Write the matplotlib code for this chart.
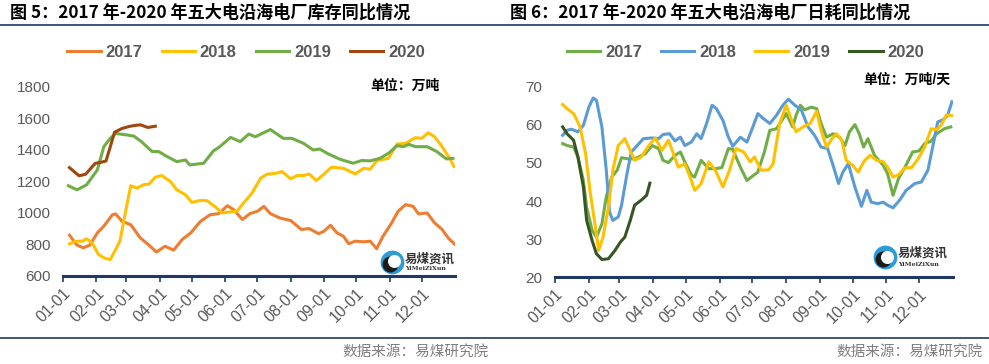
import matplotlib
matplotlib.use('Agg')
import matplotlib.pyplot as plt

plt.rcParams['font.family'] = ['Liberation Sans', 'Noto Sans CJK SC', 'DejaVu Sans']

# 月份刻度（一年中的第几天）
month_days = [0, 31, 59, 90, 120, 151, 181, 212, 243, 273, 304, 334]
month_labels = ['01-01', '02-01', '03-01', '04-01', '05-01', '06-01',
                '07-01', '08-01', '09-01', '10-01', '11-01', '12-01']

# 图5：库存（万吨）
stock_2017_d = [6, 13, 19, 25, 32, 38, 46, 49, 55, 63, 72, 80, 87, 95, 103, 111, 119, 128, 137, 145,
                153, 159, 167, 174, 181, 187, 193, 202, 212, 222, 229, 238, 243, 249, 255, 261, 266, 272,
                280, 286, 292, 298, 306, 312, 319, 326, 331, 339, 346, 353, 359, 365]
stock_2017 = [859, 796, 779, 796, 874, 916, 989, 994, 947, 926, 842, 796, 752, 789, 764, 832, 874, 947,
              989, 996, 1046, 1021, 958, 996, 1011, 1042, 996, 968, 952, 895, 901, 869, 884, 922, 874,
              853, 805, 821, 817, 821, 773, 853, 937, 1011, 1053, 1042, 994, 1000, 937, 895, 838, 800]
stock_2018_d = [6, 12, 18, 22, 27, 33, 39, 44, 49, 53, 58, 63, 69, 75, 80, 86, 92, 100, 106, 114,
                120, 128, 134, 142, 148, 154, 162, 168, 176, 184, 190, 199, 204, 212, 218, 224, 229, 236,
                244, 250, 261, 272, 280, 286, 292, 303, 311, 319, 328, 334, 340, 346, 353, 360, 364]
stock_2018 = [804, 821, 821, 836, 811, 737, 712, 705, 768, 821, 1000, 1173, 1158, 1179, 1183, 1227,
              1238, 1200, 1147, 1116, 1067, 1080, 1078, 1038, 1000, 1006, 1011, 1063, 1126, 1221, 1246,
              1253, 1263, 1217, 1238, 1238, 1248, 1206, 1253, 1291, 1284, 1248, 1284, 1278, 1331, 1347,
              1438, 1442, 1478, 1474, 1509, 1484, 1421, 1347, 1295]
stock_2019_d = [5, 13, 22, 32, 38, 44, 49, 60, 66, 73, 83, 89, 97, 106, 114, 118, 131, 140, 146, 156,
                165, 173, 179, 193, 205, 213, 224, 233, 239, 247, 258, 270, 278, 286, 295, 303, 311, 317,
                322, 328, 339, 348, 357, 363]
stock_2019 = [1173, 1147, 1179, 1274, 1421, 1474, 1505, 1495, 1488, 1453, 1390, 1390, 1358, 1326, 1337,
              1305, 1316, 1394, 1421, 1480, 1453, 1501, 1484, 1530, 1474, 1474, 1442, 1400, 1406, 1375,
              1341, 1316, 1333, 1331, 1347, 1379, 1427, 1421, 1436, 1421, 1421, 1390, 1343, 1347]
stock_2020_d = [6, 15, 21, 30, 36, 40, 44, 48, 55, 62, 67, 72, 79, 86]
stock_2020 = [1288, 1236, 1246, 1315, 1323, 1330, 1420, 1513, 1537, 1550, 1556, 1560, 1543, 1551]

# 图6：日耗（万吨/天）
burn_2017_d = [7, 11, 17, 21, 26, 29, 34, 38, 43, 47, 52, 57, 61, 67, 73, 83, 89, 95, 99, 104,
               110, 115, 119, 125, 128, 134, 141, 147, 153, 159, 163, 170, 176, 180, 186, 192, 197, 203,
               208, 212, 218, 221, 225, 229, 235, 240, 244, 249, 255, 261, 266, 270, 275, 279, 283, 287,
               293, 301, 305, 310, 315, 321, 328, 334, 339, 345, 350, 357, 363]
burn_2017 = [55.1, 54.6, 54.2, 51.6, 45.4, 38.4, 32.3, 30.5, 34.0, 41.1, 46.3, 48.1, 51.4, 51.1, 51.1,
             52.5, 54.6, 53.8, 50.7, 50.1, 52.0, 52.9, 50.3, 46.8, 46.3, 50.7, 48.5, 48.5, 48.8, 53.8,
             53.6, 48.9, 45.4, 46.3, 47.6, 52.9, 58.6, 59.0, 61.2, 63.0, 59.5, 62.5, 65.2, 64.0, 64.7,
             64.3, 60.4, 56.8, 57.7, 56.8, 54.6, 58.2, 60.1, 57.7, 54.2, 56.4, 52.0, 49.4, 47.2, 41.5,
             45.9, 48.9, 52.9, 53.2, 55.1, 55.8, 57.7, 59.0, 59.5]
burn_2018_d = [7, 11, 15, 21, 26, 31, 35, 38, 43, 47, 50, 53, 58, 61, 66, 70, 76, 81, 89, 95,
               99, 105, 110, 115, 119, 125, 130, 134, 139, 144, 148, 154, 159, 163, 170, 176, 182, 186,
               191, 197, 203, 209, 214, 220, 226, 232, 238, 244, 250, 255, 260, 264, 269, 275, 281, 286,
               290, 296, 301, 305, 310, 316, 322, 330, 336, 342, 347, 351, 356, 360, 364]
burn_2018 = [57.3, 58.6, 58.9, 58.2, 59.9, 64.7, 67.1, 66.5, 59.5, 48.1, 37.1, 34.9, 35.8, 38.9, 47.2,
             52.9, 54.8, 56.4, 56.6, 56.4, 57.5, 57.7, 55.8, 56.8, 54.6, 55.5, 57.7, 56.4, 60.4, 65.2,
             64.3, 61.2, 56.8, 54.4, 56.8, 55.5, 59.9, 63.0, 61.7, 60.4, 62.5, 65.2, 66.8, 65.2, 63.9,
             59.5, 57.3, 54.2, 53.8, 49.4, 44.6, 47.6, 49.8, 43.7, 38.6, 42.8, 39.7, 39.3, 39.7, 38.9,
             38.2, 40.2, 42.8, 44.6, 45.0, 48.1, 55.1, 60.8, 61.4, 62.5, 66.1]
burn_2019_d = [7, 11, 17, 23, 28, 32, 37, 40, 44, 49, 53, 58, 64, 69, 73, 79, 86, 92, 98, 104,
               108, 113, 119, 125, 128, 134, 141, 147, 154, 160, 166, 173, 179, 183, 189, 196, 200, 206,
               212, 217, 221, 228, 234, 240, 244, 249, 254, 258, 263, 267, 273, 278, 284, 289, 295, 301,
               305, 310, 315, 321, 327, 333, 339, 345, 350, 354, 359, 364]
burn_2019 = [65.4, 64.3, 63.0, 59.5, 52.5, 42.8, 33.2, 27.0, 30.5, 38.4, 48.1, 54.6, 56.4, 53.3, 50.7,
             51.6, 54.6, 56.6, 53.3, 56.0, 52.9, 48.9, 49.8, 45.4, 42.8, 44.6, 50.3, 48.1, 43.7, 48.1,
             53.8, 52.9, 50.3, 51.6, 48.1, 48.2, 49.8, 60.4, 65.2, 61.2, 58.2, 59.6, 60.4, 63.6, 58.6,
             54.2, 56.4, 57.7, 56.0, 50.7, 49.4, 47.6, 50.7, 52.0, 50.7, 50.3, 48.9, 46.3, 46.9, 48.7,
             48.8, 51.1, 54.2, 59.0, 58.8, 59.9, 62.7, 62.5]
burn_2020_d = [7, 11, 17, 21, 26, 29, 34, 38, 43, 49, 55, 60, 64, 69, 73, 79, 84, 87]
burn_2020 = [59.5, 57.7, 56.0, 51.6, 43.7, 34.9, 29.6, 26.1, 24.6, 24.8, 27.0, 29.2, 30.5, 34.9, 38.9,
             40.2, 41.5, 44.7]

navy = '#1F3864'
grey = '#595959'

fig = plt.figure(figsize=(9.89, 3.64), dpi=100)
ax1 = fig.add_axes([0.0637, 0.2418, 0.3964, 0.5192])
ax2 = fig.add_axes([0.5612, 0.2390, 0.4024, 0.5220])


def style_axis(ax, ylim, yticks):
    ax.set_xlim(0, 365)
    ax.set_ylim(*ylim)
    ax.set_yticks(yticks)
    ax.set_xticks(month_days)
    ax.set_xticklabels(month_labels, rotation=45, ha='right', va='top', rotation_mode='anchor')
    for s in ['top', 'right', 'left']:
        ax.spines[s].set_visible(False)
    ax.spines['bottom'].set_color(navy)
    ax.spines['bottom'].set_linewidth(2.2)
    ax.tick_params(axis='x', direction='out', length=4, width=1.2, color=navy,
                   labelsize=11.5, labelcolor=grey, pad=3)
    ax.tick_params(axis='y', length=0, labelsize=11, labelcolor=grey, pad=9)


def draw_logo(ax, cx, cy, tx, ty1, ty2):
    ax.scatter([cx], [cy], s=260, color='#2E9BD6', transform=ax.transAxes, clip_on=False, zorder=5)
    ax.scatter([cx - 0.004], [cy - 0.01], s=110, color='#1A1A1A', transform=ax.transAxes,
               clip_on=False, zorder=6)
    ax.scatter([cx + 0.006], [cy + 0.004], s=70, color='white', transform=ax.transAxes,
               clip_on=False, zorder=7)
    ax.text(tx, ty1, '易煤资讯', transform=ax.transAxes, fontsize=9, fontweight='bold',
            color='#333333', va='center', ha='left')
    ax.text(tx, ty2, 'YiMeiZiXun', transform=ax.transAxes, fontsize=4.5, fontweight='bold',
            color='#333333', va='center', ha='left', family='DejaVu Serif')


legend_kw = dict(loc='center', ncol=4, frameon=False, handlelength=2.0, handletextpad=0.3,
                 columnspacing=1.13, prop={'size': 12, 'weight': 'bold'})

# 左图
ax1.plot(stock_2017_d, stock_2017, color='#ED7D31', lw=2.2, label='2017')
ax1.plot(stock_2018_d, stock_2018, color='#FFC000', lw=2.2, label='2018')
ax1.plot(stock_2019_d, stock_2019, color='#70AD47', lw=2.2, label='2019')
ax1.plot(stock_2020_d, stock_2020, color='#9E480E', lw=2.2, label='2020')
style_axis(ax1, (600, 1800), [600, 800, 1000, 1200, 1400, 1600, 1800])
leg1 = ax1.legend(bbox_to_anchor=(0.467, 1.185), **legend_kw)
for t in leg1.get_texts():
    t.set_color(grey)
ax1.text(0.872, 1.005, '单位：万吨', transform=ax1.transAxes, fontsize=10, fontweight='bold',
         ha='center', va='center', color='black')
draw_logo(ax1, 0.838, 0.074, 0.872, 0.09, 0.042)

# 右图
ax2.plot(burn_2017_d, burn_2017, color='#70AD47', lw=2.2, label='2017')
ax2.plot(burn_2018_d, burn_2018, color='#5B9BD5', lw=2.2, label='2018')
ax2.plot(burn_2019_d, burn_2019, color='#FFC000', lw=2.2, label='2019')
ax2.plot(burn_2020_d, burn_2020, color='#375623', lw=2.2, label='2020')
style_axis(ax2, (20, 70), [20, 30, 40, 50, 60, 70])
leg2 = ax2.legend(bbox_to_anchor=(0.479, 1.184), **legend_kw)
for t in leg2.get_texts():
    t.set_color(grey)
ax2.text(0.884, 1.037, '单位：万吨/天', transform=ax2.transAxes, fontsize=10, fontweight='bold',
         ha='center', va='center', color='black')
draw_logo(ax2, 0.829, 0.103, 0.862, 0.126, 0.068)

# 标题、分隔线、数据来源
fig.text(10 / 989, 1 - 13 / 364, '图 5：2017 年-2020 年五大电沿海电厂库存同比情况',
         fontsize=12.3, fontweight='bold', va='center', ha='left',
         family=['Noto Sans CJK SC', 'DejaVu Sans'])
fig.text(510 / 989, 1 - 13 / 364, '图 6：2017 年-2020 年五大电沿海电厂日耗同比情况',
         fontsize=12.3, fontweight='bold', va='center', ha='left',
         family=['Noto Sans CJK SC', 'DejaVu Sans'])
fig.add_artist(plt.Line2D([0, 1], [1 - 25 / 364] * 2, color=navy, lw=1.2, transform=fig.transFigure))
fig.add_artist(plt.Line2D([0, 1], [1 - 338 / 364] * 2, color=navy, lw=1.2, transform=fig.transFigure))
fig.text(489 / 989, 1 - 352 / 364, '数据来源：易煤研究院', fontsize=10.5, color='#7F7F7F',
         ha='right', va='center', family=['Noto Sans CJK SC', 'DejaVu Sans'])
fig.text(983 / 989, 1 - 352 / 364, '数据来源：易煤研究院', fontsize=10.5, color='#7F7F7F',
         ha='right', va='center', family=['Noto Sans CJK SC', 'DejaVu Sans'])

fig.savefig('out.png', dpi=100)
